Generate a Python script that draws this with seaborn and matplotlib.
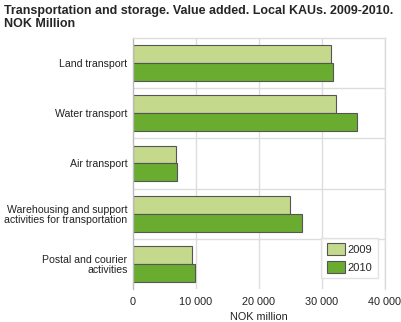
import matplotlib
matplotlib.use("Agg")
import matplotlib.pyplot as plt
import seaborn as sns
import pandas as pd
from matplotlib.ticker import FuncFormatter

categories = ["Land transport", "Water transport", "Air transport",
              "Warehousing and support\nactivities for transportation",
              "Postal and courier\nactivities"]
values_2009 = [31500, 32300, 6800, 25000, 9300]
values_2010 = [31800, 35500, 7000, 26900, 9900]
years = ["2009", "2010"]
colors = ["#c4d98b", "#6aac2f"]

df = pd.DataFrame({
    "category": categories * 2,
    "year": [years[0]] * len(categories) + [years[1]] * len(categories),
    "value": values_2009 + values_2010,
})

sns.set_style("white")
plt.rcParams["font.family"] = ["Liberation Sans", "DejaVu Sans"]

fig = plt.figure(figsize=(4.02, 3.22), dpi=100)
ax = fig.add_axes([133/402, 1 - 289/322, 252/402, 251/322])

sns.barplot(data=df, y="category", x="value", hue="year", orient="h",
            palette=colors, width=0.71, edgecolor="#555555", linewidth=0.8,
            ax=ax, saturation=1)

ax.set_xlim(0, 40000)
ax.set_xticks([0, 10000, 20000, 30000, 40000])
ax.xaxis.set_major_formatter(FuncFormatter(lambda v, p: f"{int(v):,}".replace(",", " ")))
ax.set_ylim(4.5, -0.5)
ax.set_yticks(range(len(categories)))
ax.set_yticklabels(categories, fontsize=7.6, color="#222222", linespacing=1.05)
ax.tick_params(axis="x", labelsize=7.8, colors="#222222", length=0, pad=6)
ax.tick_params(axis="y", length=0, pad=4)
ax.set_xlabel("NOK million", fontsize=7.8, color="#222222", labelpad=3)
ax.set_ylabel("")

ax.grid(False)
for x in [10000, 20000, 30000, 40000]:
    ax.axvline(x, color="#dddddd", linewidth=1, zorder=0)
for y in [0.5, 1.5, 2.5, 3.5]:
    ax.axhline(y, color="#dddddd", linewidth=1, zorder=0)
ax.set_axisbelow(True)
for s in ["top", "right"]:
    ax.spines[s].set_color("#dddddd")
    ax.spines[s].set_linewidth(1)
ax.spines["bottom"].set_visible(False)
ax.spines["left"].set_color("#bbbbbb")
ax.spines["left"].set_linewidth(1)

leg = ax.legend(loc="lower right", fontsize=8, frameon=True, fancybox=False,
                edgecolor="#dddddd", handlelength=1.6, handleheight=1.3,
                borderpad=0.5, labelspacing=0.5, handletextpad=0.3,
                bbox_to_anchor=(0.995, 0.02))
leg.get_frame().set_linewidth(1)

fig.text(4/402, 1 - 5/322, "Transportation and storage. Value added. Local KAUs. 2009-2010.\nNOK Million",
         fontsize=9, fontweight="bold", va="top", ha="left", linespacing=1.1)

fig.savefig("out.png", dpi=100)
